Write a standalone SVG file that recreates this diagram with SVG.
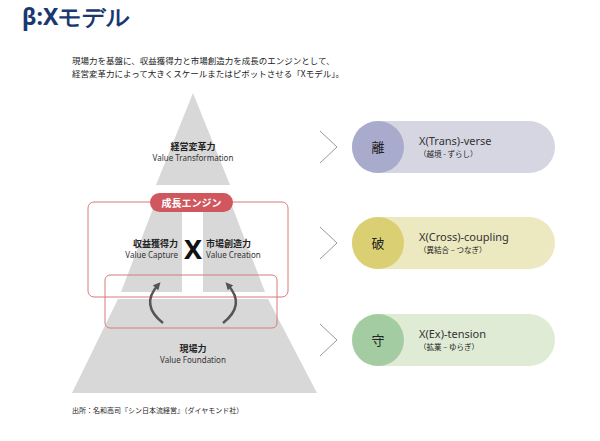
<svg xmlns="http://www.w3.org/2000/svg" width="600" height="441" viewBox="0 0 600 441">
<style>
.jp{font-family:"Noto Sans CJK JP","Noto Sans",sans-serif;fill:#222}
.en{font-family:"Noto Sans","Liberation Sans",sans-serif;fill:#333}
.gray{fill:#d8d8d8}
.red{fill:none;stroke:#d77a7a;stroke-width:1}
.chev{fill:none;stroke:#999;stroke-width:1}
.arr{fill:none;stroke:#555;stroke-width:2.5}
</style>
<defs><marker id="ah" viewBox="0 0 10 10" refX="5" refY="5" markerWidth="3" markerHeight="3" orient="auto"><path d="M0,0L10,5L0,10z" fill="#555"/></marker></defs>
<rect width="600" height="441" fill="#fff"/>
<text x="22" y="25" font-family="Noto Sans,Liberation Sans,sans-serif" font-weight="bold" font-size="23" fill="#1a3870">β:Xモデル</text>
<text class="jp" x="72" y="64" font-size="8.5">現場力を基盤に、収益獲得力と市場創造力を成長のエンジンとして、</text>
<text class="jp" x="72" y="77" font-size="8.5">経営変革力によって大きくスケールまたはピボットさせる「Xモデル」。</text>
<g id="pyramid">
<polygon class="gray" points="193,93 230,185 156,185"/>
<polygon class="gray" points="159,193 227,193 265,292 121,292"/>
<rect x="182" y="212" width="21" height="81" fill="#fff"/>
<polygon class="gray" points="118,299 268,299 317,393 72,393"/>
</g>
<g id="n-top"><text class="jp" x="193" y="150" font-size="9" font-weight="bold" text-anchor="middle">経営変革力</text>
<text class="en" x="193" y="161" font-size="8" text-anchor="middle">Value Transformation</text></g>
<g id="n-engine">
<rect class="red" x="88" y="202" width="200" height="95" rx="6"/>
<rect x="150" y="193" width="83" height="19" rx="9.5" fill="#d0575e"/>
<text x="191.5" y="206.5" font-size="10" font-weight="bold" text-anchor="middle" font-family="Noto Sans CJK JP,sans-serif" fill="#fff">成長エンジン</text>
<text class="jp" x="178" y="247" font-size="9" font-weight="bold" text-anchor="end">収益獲得力</text>
<text class="en" x="178" y="258" font-size="8" text-anchor="end">Value Capture</text>
<text x="193" y="259" font-size="27" font-weight="bold" text-anchor="middle" font-family="Noto Sans,sans-serif" fill="#111">X</text>
<text class="jp" x="206" y="247" font-size="9" font-weight="bold">市場創造力</text>
<text class="en" x="206" y="258" font-size="8">Value Creation</text>
</g>
<g id="n-base">
<rect class="red" x="105" y="275" width="172" height="53" rx="5"/>
<text class="jp" x="193" y="352" font-size="9" font-weight="bold" text-anchor="middle">現場力</text>
<text class="en" x="193" y="363" font-size="8" text-anchor="middle">Value Foundation</text>
</g>
<g id="connectors">
<path class="arr" d="M163,323 Q140,305 158,285" marker-end="url(#ah)"/>
<path class="arr" d="M223,323 Q246,305 228,285" marker-end="url(#ah)"/>
<path class="chev" d="M320,131L337,147L320,163"/>
<path class="chev" d="M320,227L337,243L320,259"/>
<path class="chev" d="M320,324L337,340L320,356"/>
</g>
<g id="n-ri">
<rect x="352" y="121" width="203" height="52" rx="26" fill="#d6d6e3"/>
<circle cx="378" cy="147" r="26" fill="#a9abcc"/>
<text class="jp" x="378" y="152" font-size="13" text-anchor="middle">離</text>
<text class="en" x="419" y="145" font-size="11" fill="#222">X(Trans)-verse</text>
<text class="jp" x="419" y="157" font-size="7.5">（越境 - ずらし）</text>
</g>
<g id="n-ha">
<rect x="352" y="217" width="203" height="52" rx="26" fill="#ece8c0"/>
<circle cx="378" cy="243" r="26" fill="#dbcf73"/>
<text class="jp" x="378" y="248" font-size="13" text-anchor="middle">破</text>
<text class="en" x="419" y="241" font-size="11" fill="#222">X(Cross)-coupling</text>
<text class="jp" x="419" y="253" font-size="7.5">（異結合 – つなぎ）</text>
</g>
<g id="n-shu">
<rect x="352" y="314" width="203" height="52" rx="26" fill="#e0ebd6"/>
<circle cx="378" cy="340" r="26" fill="#a3cca3"/>
<text class="jp" x="378" y="345" font-size="13" text-anchor="middle">守</text>
<text class="en" x="419" y="338" font-size="11" fill="#222">X(Ex)-tension</text>
<text class="jp" x="419" y="350" font-size="7.5">（拡業 – ゆらぎ）</text>
</g>
<text class="jp" x="72" y="413" font-size="7">出所：名和高司『シン日本流経営』（ダイヤモンド社）</text>
</svg>
